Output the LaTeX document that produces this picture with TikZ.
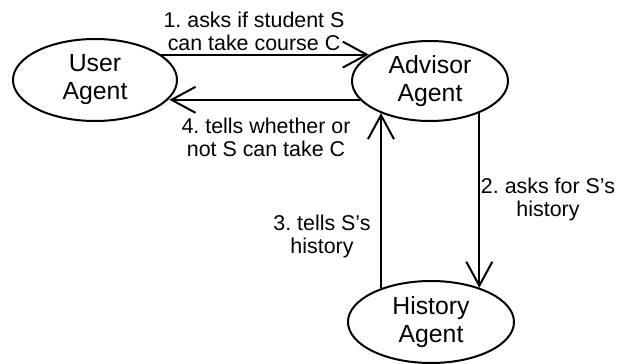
\documentclass[tikz,border=0pt]{standalone}
\usepackage{fontspec}
\setmainfont{Liberation Sans}
\usetikzlibrary{arrows.meta,shapes.geometric}
\frenchspacing
\begin{document}
\begin{tikzpicture}[x=0.5pt,y=-0.5pt,
  agent/.style={draw,ellipse,line width=1pt,inner sep=0pt,align=center,font=\fontsize{12.4}{14}\selectfont},
  msg/.style={-{Straight Barb[length=12pt,width=13pt]},line width=1pt},
  lbl/.style={align=center,inner sep=0pt,font=\fontsize{10.7}{11.5}\selectfont}]
  \useasboundingbox (0,0) rectangle (618,364);
  \node[agent,minimum width=82pt,minimum height=41pt] (user) at (95,80) {User\\Agent};
  \node[agent,minimum width=78pt,minimum height=40pt] (advisor) at (430,81) {Advisor\\Agent};
  \node[agent,minimum width=83pt,minimum height=41pt] (history) at (431,322) {History\\Agent};
  \draw[msg] (user.21) -- (user.21 -| advisor.157);
  \draw[msg] (advisor.327) -- (advisor.327 |- history.35);
  \draw[msg] (history.146) -- (history.146 |- advisor.213);
  \draw[msg] (advisor.195) -- (advisor.195 -| user.346);
  \node[lbl] (l1) at (254,31) {1. asks if student S\\can take course C};
  \node[lbl] (l2) at (548,199) {2. asks for S's\\history};
  \node[lbl] (l3) at (322,236) {3. tells S's\\history};
  \node[lbl] (l4) at (266,137) {4. tells whether or\\not S can take C};
\end{tikzpicture}
\end{document}
